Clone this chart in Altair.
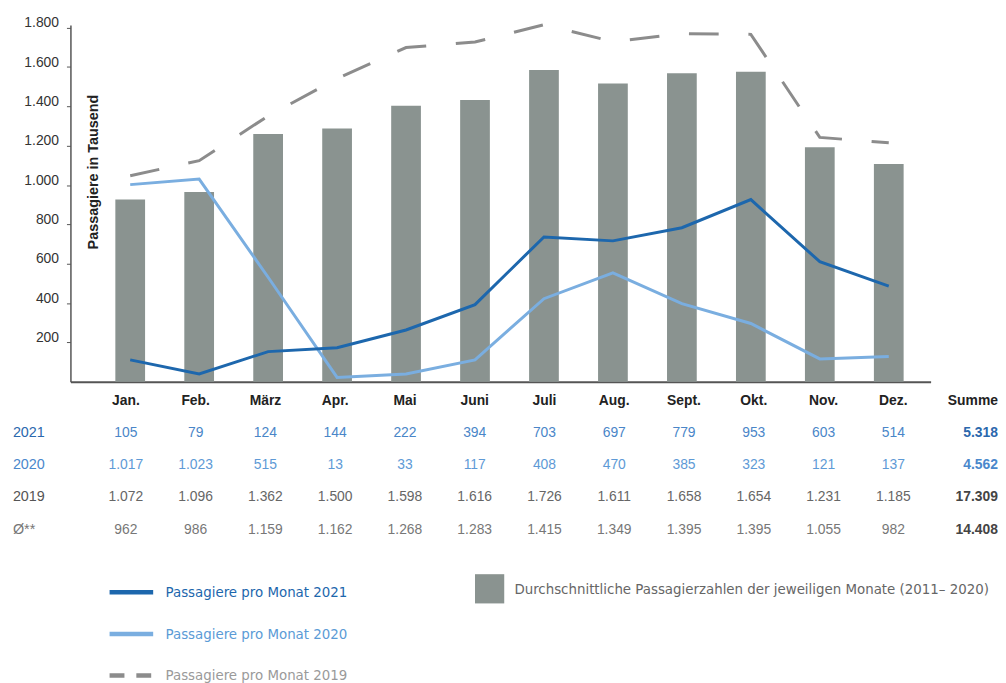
import altair as alt
import pandas as pd

# ---------------- data ----------------
months = ["Jan.", "Feb.", "März", "Apr.", "Mai", "Juni", "Juli", "Aug.", "Sept.", "Okt.", "Nov.", "Dez."]
avg_bars = [926, 965, 1259, 1287, 1403, 1432, 1585, 1516, 1568, 1576, 1192, 1107]
pax_2021 = [111, 39, 153, 173, 263, 392, 736, 716, 783, 926, 610, 486]
pax_2020 = [1002, 1030, 531, 22, 39, 111, 422, 553, 397, 296, 116, 128]
pax_2019 = [1047, 1124, 1351, 1541, 1699, 1727, 1815, 1729, 1770, 1766, 1242, 1215]

tbl_2021 = ["105", "79", "124", "144", "222", "394", "703", "697", "779", "953", "603", "514"]
tbl_2020 = ["1.017", "1.023", "515", "13", "33", "117", "408", "470", "385", "323", "121", "137"]
tbl_2019 = ["1.072", "1.096", "1.362", "1.500", "1.598", "1.616", "1.726", "1.611", "1.658", "1.654", "1.231", "1.185"]
tbl_avg = ["962", "986", "1.159", "1.162", "1.268", "1.283", "1.415", "1.349", "1.395", "1.395", "1.055", "982"]
row_labels = ["2021", "2020", "2019", "Ø**"]
sum_header = "Summe"
sums = ["5.318", "4.562", "17.309", "14.408"]

S21 = "Passagiere pro Monat 2021"
S20 = "Passagiere pro Monat 2020"
S19 = "Passagiere pro Monat 2019"
BAR = "Durchschnittliche Passagierzahlen der jeweiligen Monate (2011\u2013 2020)"

# ---------------- styling ----------------
C21 = "#1d67ad"
C20 = "#7aaee0"
C19 = "#8c8c8c"
CBAR = "#8a9390"
FONT = "Liberation Sans, Arial, sans-serif"
NARROW = "'Liberation Sans Narrow', 'DejaVu Sans Condensed', 'Roboto Condensed', 'Liberation Sans', sans-serif"

XD = [-0.795, 11.535]
W = 868
xscale = alt.Scale(domain=XD, nice=False, zero=False)
yscale = alt.Scale(domain=[0, 1814], nice=False, zero=True)

bars_df = pd.DataFrame({"i": list(range(12)), "v": avg_bars, "s": [BAR] * 12})
lines_df = pd.DataFrame(
    [{"i": i, "v": v, "s": S19, "o": 0} for i, v in enumerate(pax_2019)]
    + [{"i": i, "v": v, "s": S20, "o": 1} for i, v in enumerate(pax_2020)]
    + [{"i": i, "v": v, "s": S21, "o": 2} for i, v in enumerate(pax_2021)]
)

yaxis = alt.Axis(
    values=list(range(200, 1801, 200)),
    labelExpr="replace(format(datum.value, ','), ',', '.')",
    labelFont=FONT, labelFontSize=14, labelColor="#333",
    tickSize=4, tickColor="#555", domainColor="#555", domainWidth=1.5,
    labelPadding=8, labelOffset=-5, grid=False,
    title="Passagiere in Tausend", titleFont=FONT, titleFontSize=14.5,
    titleFontWeight="bold", titleColor="#222", titleAngle=270,
    titleX=23, titleY=148, titleAlign="center", titleBaseline="middle",
)
xaxis = alt.Axis(labels=False, ticks=False, grid=False, domainColor="#555",
                 domainWidth=2, title=None)

line_legend = dict(
    title=None, orient="none", legendX=37, legendY=548, direction="vertical",
    symbolType="stroke", symbolSize=1936, symbolStrokeWidth=4.5,
    labelFont=NARROW, labelFontSize=15,
    labelColor={"expr": f"datum.label == '{S21}' ? '{C21}' : datum.label == '{S20}' ? '#5b9bd6' : '#9a9a9a'"},
    labelOffset=10, rowPadding=8, padding=0, labelLimit=0,
)
line_color = alt.Color("s:N", scale=alt.Scale(domain=[S21, S20, S19], range=[C21, C20, C19]),
                       legend=alt.Legend(**line_legend))
line_dash = alt.StrokeDash("s:N", scale=alt.Scale(domain=[S21, S20, S19],
                                                   range=[[1, 0], [1, 0], [15, 12]]),
                           legend=alt.Legend(**line_legend))

bars = alt.Chart(bars_df).mark_bar(size=30, orient="vertical").encode(
    x=alt.X("i:Q", scale=xscale, axis=xaxis),
    y=alt.Y("v:Q", scale=yscale, axis=yaxis),
    fill=alt.Fill(
        "s:N",
        scale=alt.Scale(domain=[BAR], range=[CBAR]),
        legend=alt.Legend(
            title=None, orient="none", legendX=408, legendY=554,
            symbolType="square", symbolSize=870, symbolStrokeWidth=0,
            labelFont=NARROW, labelFontSize=15, labelColor="#666",
            labelOffset=10, labelLimit=0, padding=0,
        ),
    ),
)

# invisible layer that only carries the line legend (colour + dash)
legend_holder = alt.Chart(lines_df).mark_line(strokeWidth=0, opacity=0).encode(
    x=alt.X("i:Q", scale=xscale, axis=xaxis),
    y=alt.Y("v:Q", scale=yscale, axis=yaxis),
    color=line_color,
    strokeDash=line_dash,
)

# 2019 dashed line in the plot (longer dashes than its legend symbol)
lines_2019 = alt.Chart(lines_df[lines_df.s == S19]).mark_line(
    strokeWidth=3, color=C19, strokeDash=[30, 30]
).encode(
    x=alt.X("i:Q", scale=xscale, axis=xaxis),
    y=alt.Y("v:Q", scale=yscale, axis=yaxis),
)

lines_solid = alt.Chart(lines_df[lines_df.s != S19]).mark_line(strokeWidth=3).encode(
    x=alt.X("i:Q", scale=xscale, axis=xaxis),
    y=alt.Y("v:Q", scale=yscale, axis=yaxis),
    color=line_color,
    order="o:Q",
)

top = alt.layer(bars, legend_holder, lines_2019, lines_solid).properties(width=W, height=360)

# ---------------- table ----------------
ROWS = ["h", "r21", "r20", "r19", "ravg"]
row_vals = [tbl_2021, tbl_2020, tbl_2019, tbl_avg]
val_colors = ["#4a86c8", "#5e9ad6", "#666666", "#777777"]
lab_colors = ["#2b68ad", "#4a88cc", "#555555", "#777777"]
sum_colors = ["#2b68ad", "#4a88cc", "#444444", "#444444"]

SUM_X = 12.5
LAB_X = -1.62

hdr_df = pd.DataFrame({"i": list(range(12)), "row": ["h"] * 12, "t": months, "c": ["#222"] * 12})
body_rows = []
for k, vals in enumerate(row_vals):
    for i, t in enumerate(vals):
        body_rows.append({"i": i, "row": ROWS[k + 1], "t": t, "c": val_colors[k]})
body_df = pd.DataFrame(body_rows)
sum_df = pd.DataFrame({"i": [SUM_X] * 5, "row": ROWS, "t": [sum_header] + sums,
                       "c": ["#222"] + sum_colors})
lab_df = pd.DataFrame({"i": [LAB_X] * 4, "row": ROWS[1:], "t": row_labels, "c": lab_colors})


def tenc(ch):
    return ch.encode(
        x=alt.X("i:Q", scale=xscale, axis=None),
        y=alt.Y("row:N", sort=ROWS, scale=alt.Scale(domain=ROWS, paddingInner=0, paddingOuter=0), axis=None),
        text="t:N",
        color=alt.Color("c:N", scale=None),
    )


hdr = tenc(alt.Chart(hdr_df).mark_text(align="center", baseline="middle", font=FONT, fontSize=14, fontWeight="bold"))
body = tenc(alt.Chart(body_df).mark_text(align="center", baseline="middle", font=FONT, fontSize=14))
summ = tenc(alt.Chart(sum_df).mark_text(align="right", baseline="middle", font=FONT, fontSize=14, fontWeight="bold"))
labs = tenc(alt.Chart(lab_df).mark_text(align="left", baseline="middle", font=FONT, fontSize=14.5))

table = alt.layer(hdr, body, summ, labs).properties(width=W, height=162.5)

chart = alt.vconcat(top, table, spacing=1).properties(
    padding={"left": 4, "top": 4, "right": 0, "bottom": 0},
    background="white",
).configure_view(stroke=None)

chart.save("out.html", embed_options={"renderer": "svg", "actions": False})
